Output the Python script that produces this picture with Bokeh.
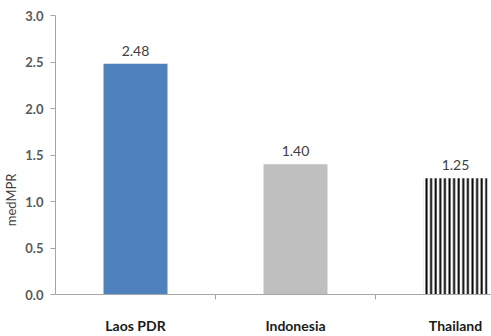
from bokeh.plotting import figure
from bokeh.models import (ColumnDataSource, Range1d, FixedTicker, LabelSet,
                          NumeralTickFormatter)
from bokeh.core.properties import value
from bokeh.embed import file_html
from bokeh.resources import INLINE

# medMPR by country
countries = ["Laos PDR", "Indonesia", "Thailand"]
med_mpr = [2.48, 1.40, 1.25]
value_text = ["2.48", "1.40", "1.25"]
y_ticks = [0.0, 0.5, 1.0, 1.5, 2.0, 2.5, 3.0]

xpos = [i + 0.5 for i in range(len(countries))]

W, H = 491, 336
p = figure(width=W, height=H, output_backend="svg", toolbar_location=None,
           x_range=Range1d(0, 2.725), y_range=Range1d(0, 3.0),
           min_border_left=55, min_border_right=0, min_border_top=15,
           min_border_bottom=38)
p.background_fill_color = "white"
p.border_fill_color = "white"
p.outline_line_color = None
p.xgrid.visible = False
p.ygrid.visible = False

# plain filled bars
solid = ColumnDataSource(dict(x=xpos[:2], top=med_mpr[:2],
                              color=["#4f81bd", "#bfbfbf"]))
p.vbar(x="x", top="top", width=0.4, source=solid, fill_color="color",
       line_color=None)

# striped bar
striped = ColumnDataSource(dict(x=xpos[2:], top=med_mpr[2:]))
p.vbar(x="x", top="top", width=0.4, source=striped, fill_color="white",
       line_color=None, hatch_pattern="vertical_line", hatch_color="black",
       hatch_weight=2.0, hatch_scale=4.6)

# value labels above bars
labels = ColumnDataSource(dict(x=xpos, y=med_mpr, t=value_text))
p.add_layout(LabelSet(x="x", y="y", text="t", source=labels, y_offset=8,
                      text_align="center", text_baseline="bottom",
                      text_font=value("Lato"), text_font_size="14px",
                      text_color="#404040"))

axis_gray = "#a6a6a6"

# y axis
p.yaxis.ticker = FixedTicker(ticks=y_ticks, minor_ticks=[])
p.yaxis.formatter = NumeralTickFormatter(format="0.0")
p.yaxis.axis_line_color = axis_gray
p.yaxis.major_tick_line_color = axis_gray
p.yaxis.major_tick_out = 5
p.yaxis.major_tick_in = 0
p.yaxis.major_label_standoff = 7
p.yaxis.major_label_text_font = "Lato"
p.yaxis.major_label_text_font_style = "bold"
p.yaxis.major_label_text_font_size = "13px"
p.yaxis.major_label_text_color = "#595959"

# axis title, padded with no-break spaces so it sits below the axis middle
p.yaxis.axis_label = "medMPR" + "\u00a0" * 27
p.yaxis.axis_label_standoff = 3
p.yaxis.axis_label_text_font = "Lato"
p.yaxis.axis_label_text_font_style = "normal"
p.yaxis.axis_label_text_font_size = "13px"
p.yaxis.axis_label_text_color = "#404040"

# x axis: category names centred, ticks on category boundaries
p.xaxis.ticker = FixedTicker(ticks=xpos, minor_ticks=[1, 2])
p.xaxis.major_label_overrides = {x: c for x, c in zip(xpos, countries)}
p.xaxis.axis_line_color = axis_gray
p.xaxis.major_tick_line_color = None
p.xaxis.minor_tick_line_color = axis_gray
p.xaxis.minor_tick_out = 5
p.xaxis.minor_tick_in = 0
p.xaxis.major_label_standoff = 16
p.xaxis.major_label_text_font = "Lato"
p.xaxis.major_label_text_font_style = "bold"
p.xaxis.major_label_text_font_size = "14px"
p.xaxis.major_label_text_color = "#1a1a1a"

open("out.html", "w").write(file_html(p, INLINE))
